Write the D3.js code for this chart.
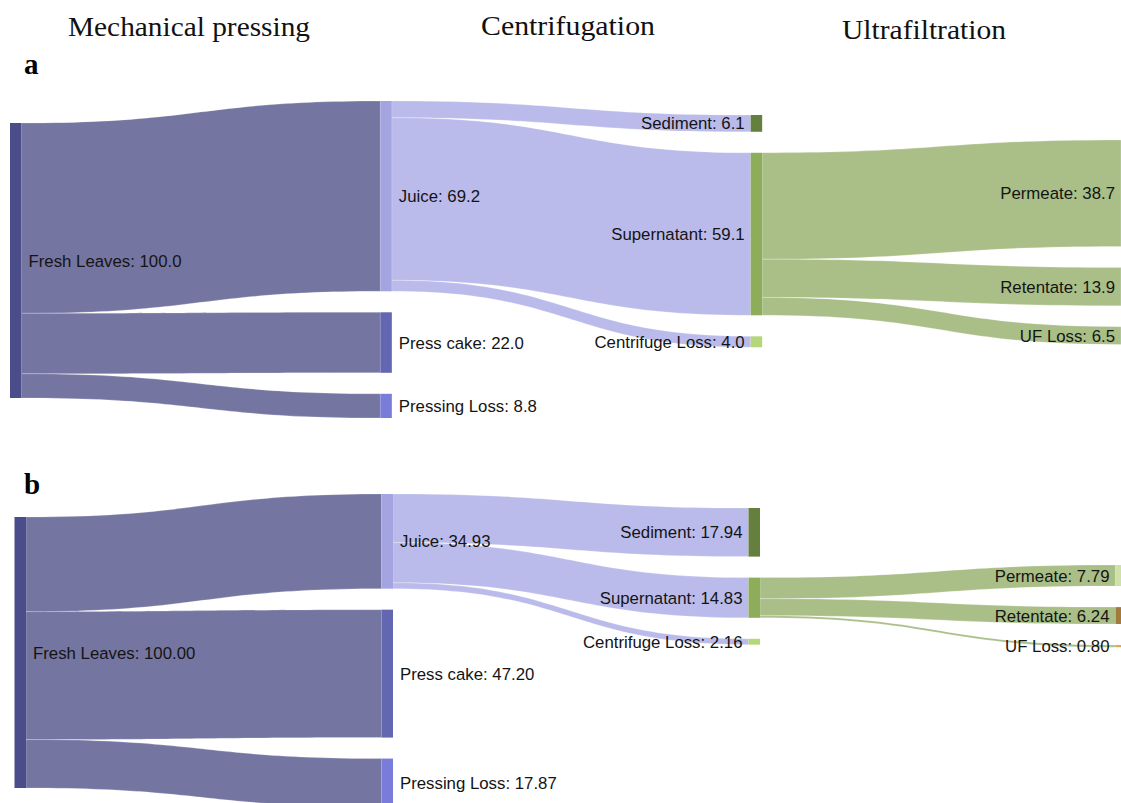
<!DOCTYPE html>
<html>
<head>
<meta charset="utf-8">
<script src="https://cdn.jsdelivr.net/npm/d3@7/dist/d3.min.js"></script>
<style>
  html, body { margin: 0; padding: 0; background: #fff; overflow: hidden; }
  svg { display: block; }
</style>
</head>
<body>
<svg id="chart" width="1121" height="803"></svg>
<script>
// ---- data ----
const stageTitles = ["Mechanical pressing", "Centrifugation", "Ultrafiltration"];
const panelLetters = ["a", "b"];

const nodeNames = ["Fresh Leaves", "Juice", "Press cake", "Pressing Loss",
                   "Sediment", "Supernatant", "Centrifuge Loss",
                   "Permeate", "Retentate", "UF Loss"];
const nodeColumns = [0, 1, 1, 1, 2, 2, 2, 3, 3, 3];

const linkSources = [0, 0, 0, 1, 1, 1, 5, 5, 5];
const linkTargets = [1, 2, 3, 4, 5, 6, 7, 8, 9];

// mass balance, panel a (1 decimal) and panel b (2 decimals)
const flowValuesA = [69.2, 22.0, 8.8, 6.1, 59.1, 4.0, 38.7, 13.9, 6.5];
const flowValuesB = [34.93, 47.20, 17.87, 17.94, 14.83, 2.16, 7.79, 6.24, 0.80];
const valueDecimals = [1, 2];

// ---- styling ----
const nodeColors = ["#4a4d8a", "#a4a5e0", "#6366b0", "#7a7cd9",
                    "#65803e", "#8ead5a", "#b3d77a",
                    "#cfe0a8", "#a37a3b", "#e8a54a"];
const linkColorBySource = { 0: "#7475a1", 1: "#babbea", 5: "#a9bf87" };

// layout of each panel: horizontal extent of the node columns,
// vertical scale and the top of every column
const panelLayouts = [
  { xFirst: 10,   xLast: 1121, k: 2.75, colTops: [123, 101, 115, 140], gap: 21, letterY: 74 },
  { xFirst: 14.5, xLast: 1115.5, k: 2.71, colTops: [517, 494, 508, 565], gap: 21, letterY: 494 }
];
const nodeWidth = 11.5;

const svg = d3.select("#chart");

// stage titles
const titleSpecs = [
  { x: 68,  y: 36, w: 242 },
  { x: 481, y: 35, w: 174 },
  { x: 842, y: 39, w: 164 }
];
svg.selectAll("text.stage")
  .data(stageTitles)
  .join("text")
  .attr("class", "stage")
  .attr("x", (d, i) => titleSpecs[i].x)
  .attr("y", (d, i) => titleSpecs[i].y)
  .attr("textLength", (d, i) => titleSpecs[i].w)
  .attr("lengthAdjust", "spacingAndGlyphs")
  .style("font-family", "'Liberation Serif', 'Times New Roman', serif")
  .style("font-size", "27px")
  .style("fill", "#111")
  .text(d => d);

function drawPanel(values, decimals, layout, letter) {
  const g = svg.append("g");
  const fmt = d3.format("." + decimals + "f");

  const x = d3.scaleLinear().domain([0, 3]).range([layout.xFirst, layout.xLast]);
  const h = d3.scaleLinear().domain([0, 100]).range([0, 100 * layout.k]);

  // nodes with their throughput
  const nodes = nodeNames.map((name, i) => ({ i, name, col: nodeColumns[i], inSum: 0, outSum: 0 }));
  const links = linkSources.map((s, j) => ({ source: nodes[s], target: nodes[linkTargets[j]], value: values[j] }));
  links.forEach(l => { l.source.outSum += l.value; l.target.inSum += l.value; });
  nodes.forEach(n => { n.value = Math.max(n.inSum, n.outSum); });

  // stack nodes in each column
  d3.groups(nodes, n => n.col).forEach(([col, colNodes]) => {
    let y = layout.colTops[col];
    colNodes.forEach(n => {
      n.x0 = x(col);
      n.x1 = n.x0 + nodeWidth;
      n.y0 = y;
      n.y1 = y + h(n.value);
      y = n.y1 + layout.gap;
    });
  });

  // stack link ends on their nodes
  nodes.forEach(n => { n.outY = n.y0; n.inY = n.y0; });
  links.forEach(l => {
    l.sy0 = l.source.outY; l.sy1 = l.sy0 + h(l.value); l.source.outY = l.sy1;
    l.ty0 = l.target.inY;  l.ty1 = l.ty0 + h(l.value); l.target.inY = l.ty1;
  });

  function bandPath(l) {
    const sx = l.source.x1, tx = l.target.x0;
    const xm = (sx + tx) / 2;
    const p = d3.path();
    p.moveTo(sx, l.sy0);
    p.bezierCurveTo(xm, l.sy0, xm, l.ty0, tx, l.ty0);
    p.lineTo(tx, l.ty1);
    p.bezierCurveTo(xm, l.ty1, xm, l.sy1, sx, l.sy1);
    p.closePath();
    return p.toString();
  }

  g.append("g").selectAll("path")
    .data(links)
    .join("path")
    .attr("d", bandPath)
    .attr("fill", l => linkColorBySource[l.source.i])
    .attr("stroke", "rgba(255,255,255,0.45)")
    .attr("stroke-width", 0.5);

  g.append("g").selectAll("rect")
    .data(nodes)
    .join("rect")
    .attr("x", n => n.x0)
    .attr("y", n => n.y0)
    .attr("width", nodeWidth)
    .attr("height", n => n.y1 - n.y0)
    .attr("fill", n => nodeColors[n.i]);

  g.append("g").selectAll("text")
    .data(nodes)
    .join("text")
    .attr("x", n => n.col < 2 ? n.x1 + 7 : n.x0 - 6)
    .attr("y", n => (n.y0 + n.y1) / 2)
    .attr("dy", "0.36em")
    .attr("text-anchor", n => n.col < 2 ? "start" : "end")
    .style("font-family", "'Liberation Sans', Arial, sans-serif")
    .style("font-size", "16.8px")
    .style("fill", "#141414")
    .text(n => n.name + ": " + fmt(n.value));

  svg.append("text")
    .attr("x", 24)
    .attr("y", layout.letterY)
    .style("font-family", "'Liberation Serif', 'Times New Roman', serif")
    .style("font-weight", "bold")
    .style("font-size", "29px")
    .style("fill", "#000")
    .text(letter);
}

drawPanel(flowValuesA, valueDecimals[0], panelLayouts[0], panelLetters[0]);
drawPanel(flowValuesB, valueDecimals[1], panelLayouts[1], panelLetters[1]);
</script>
</body>
</html>
